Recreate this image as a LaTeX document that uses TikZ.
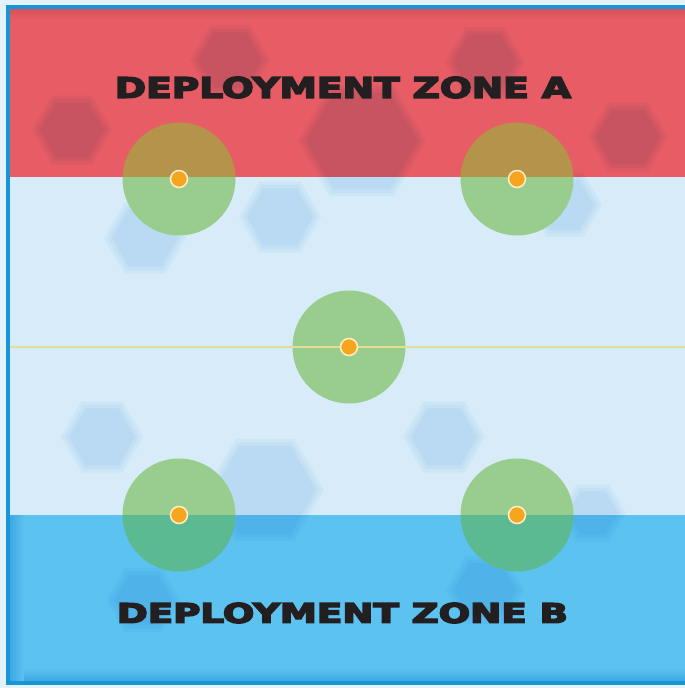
\documentclass[tikz,border=0pt]{standalone}
\usepackage{fontspec}
\usepackage{graphicx}
\newfontfamily\zonefont{DejaVu Sans}[BoldFeatures={FakeBold=5}]
\definecolor{zred}{RGB}{232,93,101}
\definecolor{zredtop}{RGB}{214,82,90}
\definecolor{zmid}{RGB}{215,236,248}
\definecolor{zblue}{RGB}{92,194,240}
\definecolor{zbluedk}{RGB}{60,168,226}
\definecolor{framec}{RGB}{22,150,215}
\definecolor{outside}{RGB}{228,243,251}
\definecolor{hexmul}{RGB}{226,240,252}
\definecolor{cmid}{RGB}{152,205,142}
\definecolor{cred}{RGB}{180,148,74}
\definecolor{cblue}{RGB}{92,186,146}
\definecolor{dotc}{RGB}{246,166,30}
\definecolor{dotring}{RGB}{255,238,200}
\definecolor{midline}{RGB}{226,222,150}
\definecolor{ink}{RGB}{35,31,32}
\tikzset{
  zonelabel/.style={inner sep=0pt, text=ink, font=\zonefont\bfseries},
  hexfill/.style={fill=hexmul, fill opacity=0.4},
  objdot/.style={fill=dotc, draw=dotring, line width=1.5},
  framestroke/.style={draw=framec, line width=4},
}
\begin{document}
\begin{tikzpicture}[x=1pt,y=-1pt]
\useasboundingbox (0,0) rectangle (685,688);
\fill[outside] (0,0) rectangle (685,688);
% zones
\fill[zred] (10,9) rectangle (685,177);
\fill[zmid] (10,177) rectangle (685,515);
\fill[zblue] (10,515) rectangle (685,681);
\shade[top color=zredtop, bottom color=zred] (10,9) rectangle (685,20);
\shade[left color=zbluedk, right color=zblue] (10,515) rectangle (24,681);
\shade[top color=zblue, bottom color=zbluedk] (24,668) rectangle (685,681);
% hexagons (soft edged)
\begin{scope}[blend mode=multiply]
\foreach \cx/\cy/\r in {230/60/36, 72/130/36, 362/141/60, 485/62/36, 628/137/36,
  145/238/37, 280/217/37, 565/205/33, 102/437/37, 444/437/37, 265/490/55, 593/513/29,
  143/600/33, 485/590/35} {
  \foreach \d in {-4,0,4} {
    \fill[hexfill] (\cx,\cy) +(0:\r+\d) -- +(60:\r+\d) -- +(120:\r+\d) -- +(180:\r+\d) -- +(240:\r+\d) -- +(300:\r+\d) -- cycle;
  }
}
\end{scope}
% objective circles
\foreach \cx/\cy in {179/179, 517/179, 349/347, 179/515, 517/515} {
  \begin{scope}
    \clip (\cx,\cy) circle[radius=56.5];
    \fill[cred] (0,0) rectangle (685,177);
    \fill[cmid] (0,177) rectangle (685,515);
    \fill[cblue] (0,515) rectangle (685,688);
  \end{scope}
}
% centre line
\draw[midline, line width=1.3] (10,347) -- (685,347);
% dots
\foreach \cx/\cy in {179/179, 517/179, 349/347, 179/515, 517/515} {
  \path[objdot] (\cx,\cy) circle[radius=8.5];
}
% frame
\path[framestroke] (700,7) -- (8,7) -- (8,683) -- (700,683);
% labels
\node[zonelabel] (za) at (343,87.5) {\resizebox{456pt}{21pt}{DEPLOYMENT ZONE A}};
\node[zonelabel] (zb) at (342.5,613) {\resizebox{451pt}{20pt}{DEPLOYMENT ZONE B}};
\end{tikzpicture}
\end{document}
